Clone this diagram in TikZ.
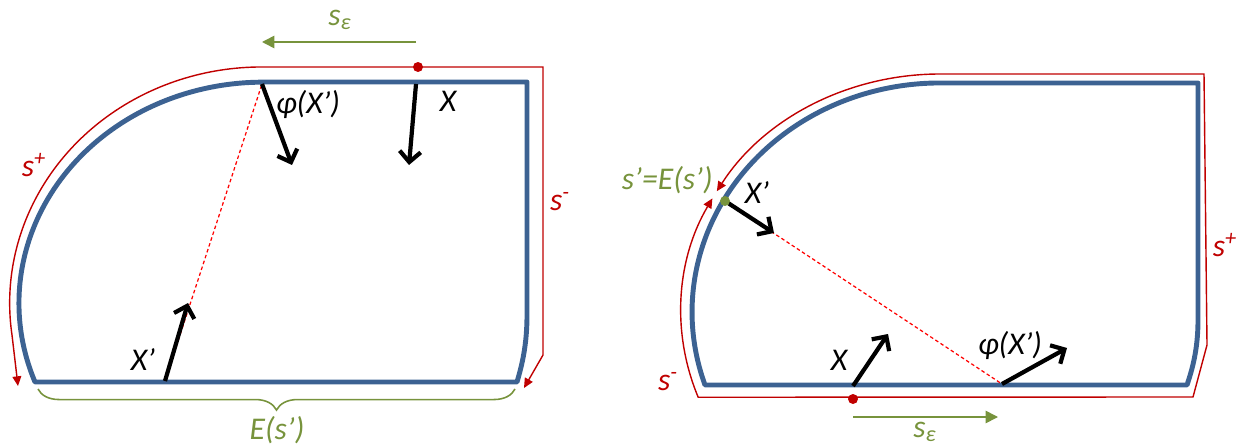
\documentclass[tikz,border=0pt]{standalone}
\usepackage{fontspec}
\setmainfont{Carlito}
\usetikzlibrary{arrows.meta,decorations.pathreplacing}

\definecolor{wallblue}{RGB}{60,98,146}
\definecolor{darkred}{RGB}{192,0,0}
\definecolor{olive}{RGB}{119,147,60}

\begin{document}
\begin{tikzpicture}[
			x=0.02cm,
			y=-0.02cm,
			wall/.style={
				draw=wallblue,
				line width=2.8pt,
				line join=round
			},
			sweep/.style={
				draw=darkred,
				line width=0.8pt,
				{Triangle[length=5.5pt,width=5pt]}-{Triangle[length=5.5pt,width=5pt]}
			},
			slide/.style={draw=olive, line width=0.9pt, -{Triangle[length=7pt,width=7pt]}},
			vec/.style={draw=black, line width=2.4pt, -{Straight Barb[length=6pt,width=12pt]}},
			chord/.style={draw=red, line width=0.7pt, dash pattern=on 2pt off 1.5pt},
			spot/.style={circle, inner sep=0pt, minimum size=0.2cm},
			lbl/.style={font=\itshape\fontsize{18}{20}\selectfont, inner sep=0pt}
			]
			
			\useasboundingbox (0,0) rectangle (1237,446);
			
			%--------------------------------------------------
			% Left Domain
			%--------------------------------------------------
			
			\draw[wall] (262,82) -- (527,82) -- (527,315)
			.. controls (527,345) and (522,365) .. (517,382) -- (35,382)
			arc[start angle=159.1, end angle=270, x radius=244, y radius=221] -- cycle;
			
			\draw[sweep] (18,386) -- (12,335)
			arc[start angle=172.2, end angle=270, x radius=252, y radius=236]
			-- (543,67) -- (543,355) -- (524,388);
			
			\coordinate (al) at (416,84);
			\coordinate (bl) at (409,165);
			\coordinate (pl) at (262,84);
			\coordinate (ql) at (292,165);
			\coordinate (ul) at (165,381);
			\coordinate (vl) at (188,303);
			\coordinate (sl) at (416,42);
			\coordinate (tl) at (262,42);
			
			\draw[chord] (ul) -- (pl);
			\draw[vec] (al) -- (bl);
			\draw[vec] (pl) -- (ql);
			\draw[vec] (ul) -- (vl);
			\draw[slide] (sl) -- (tl);
			
			\node[spot, fill=darkred] (dotl) at (418,67) {};
			
			\node[lbl, text=olive] (epsl) at (340,20) {s\textsubscript{ε}};
			\node[lbl] (phil) at (308,104) {φ(X’)};
			\node[lbl] (xl) at (448,101) {X};
			\node[lbl] (xpl) at (143,360) {X’};
			\node[lbl, text=darkred] (spl) at (34,165) {s\textsuperscript{+}};
			\node[lbl, text=darkred] (sml) at (560,202) {s\textsuperscript{-}};
			
			\draw[olive, line width=0.9pt, decorate,
			decoration={brace, mirror, amplitude=12pt}] (38,389) -- (515,389);
			\node[lbl, text=olive] (el) at (277,430) {E(s’)};
			
			%--------------------------------------------------
			% Right Domain
			%--------------------------------------------------
			
			\draw[wall] (940,83) -- (1198,83) -- (1198,320)
			.. controls (1198,350) and (1192,370) .. (1187,385) -- (705,385)
			arc[start angle=161.4, end angle=270, x radius=248, y radius=229] -- cycle;
			
			\draw[sweep] (712.4,198.4)
			arc[start angle=208.5, end angle=159, x radius=259, y radius=238]
			-- (1193,397) -- (1207,345) -- (1204,74) -- (940,74)
			arc[start angle=270, end angle=210.5, x radius=259, y radius=238];
			
			\coordinate (gr) at (725,201);
			\coordinate (hr) at (774,233);
			\coordinate (ar) at (853,386);
			\coordinate (br) at (888,334);
			\coordinate (pr) at (1002,384);
			\coordinate (qr) at (1067,348);
			\coordinate (sr) at (853,417);
			\coordinate (tr) at (998,417);
			
			\draw[chord] (gr) -- (pr);
			\draw[vec] (gr) -- (hr);
			\draw[vec] (ar) -- (br);
			\draw[vec] (pr) -- (qr);
			\draw[slide] (sr) -- (tr);
			
			\node[spot, fill=darkred] (dotr) at (853,399) {};
			\node[spot, fill=olive] (dotg) at (gr) {};
			
			\node[lbl] (xpr) at (757,193) {X’};
			\node[lbl] (xr) at (839,360) {X};
			\node[lbl] (phir) at (1010,345) {φ(X’)};
			\node[lbl, text=darkred] (spr) at (1225,245) {s\textsuperscript{+}};
			\node[lbl, text=darkred] (smr) at (668,382) {s\textsuperscript{-}};
			\node[lbl, text=olive, anchor=east] (eqr) at (713,180) {s’=E(s’)};
			\node[lbl, text=olive] (epsr) at (925,432) {s\textsubscript{ε}};
			
		\end{tikzpicture}
\end{document}
